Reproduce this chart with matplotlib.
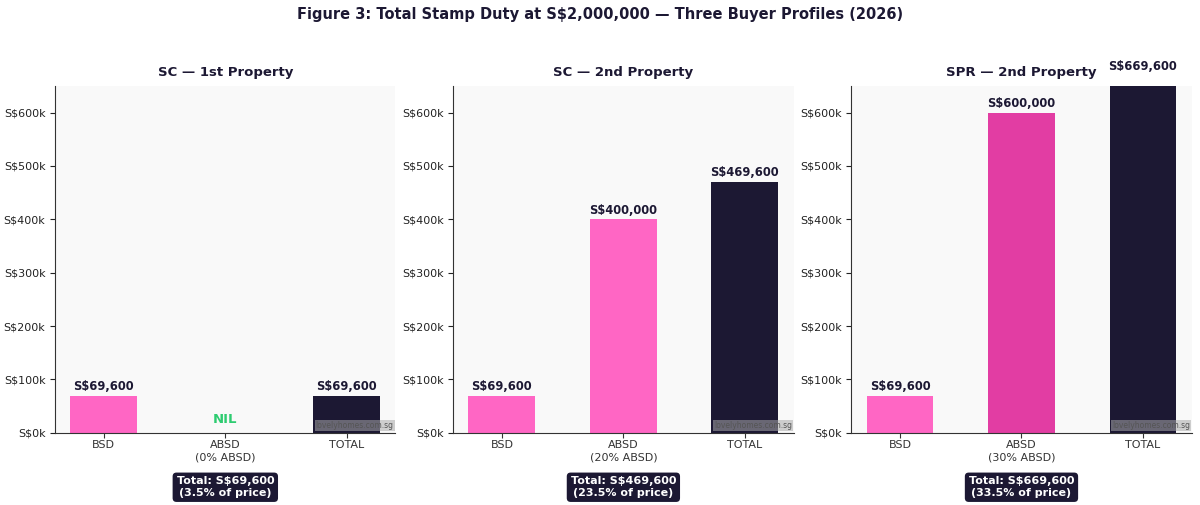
import matplotlib.pyplot as plt
from matplotlib.ticker import FuncFormatter

plt.rcParams['font.family'] = ['DejaVu Sans']

profiles = ['SC — 1st Property', 'SC — 2nd Property', 'SPR — 2nd Property']
absd_labels = ['ABSD\n(0% ABSD)', 'ABSD\n(20% ABSD)', 'ABSD\n(30% ABSD)']
bsd = [69600, 69600, 69600]
absd = [0, 400000, 600000]
total = [69600, 469600, 669600]
pct = ['3.5%', '23.5%', '33.5%']
absd_colors = ['#ff66c4', '#ff66c4', '#e23da3']

dark = '#1c1833'
pink = '#ff66c4'

fig, axes = plt.subplots(1, 3, figsize=(12, 5.05), dpi=100)
fig.subplots_adjust(left=0.046, right=0.993, top=0.830, bottom=0.143, wspace=0.17)
fig.suptitle('Figure 3: Total Stamp Duty at S$2,000,000 — Three Buyer Profiles (2026)',
             fontsize=10.5, fontweight='bold', color=dark, y=0.972, va='center')

fmt = FuncFormatter(lambda v, p: f'S${v/1000:.0f}k')

for i, ax in enumerate(axes):
    vals = [bsd[i], absd[i], total[i]]
    cols = [pink, absd_colors[i], dark]
    ax.set_facecolor('#f9f9f9')
    ax.bar([0, 1, 2], vals, width=0.55, color=cols)
    ax.set_xlim(-0.4, 2.4)
    ax.set_ylim(0, 650000)
    ax.yaxis.set_major_formatter(fmt)
    ax.set_xticks([0, 1, 2])
    ax.set_xticklabels(['BSD', absd_labels[i], 'TOTAL'], fontsize=8, color='#222222')
    ax.tick_params(axis='y', labelsize=8, colors='#222222')
    ax.tick_params(axis='x', pad=2, colors='#333333')
    for s in ['top', 'right']:
        ax.spines[s].set_visible(False)
    for s in ['left', 'bottom']:
        ax.spines[s].set_color('#333333')
    ax.set_title(profiles[i], fontsize=9.5, fontweight='bold', color=dark, pad=7)
    for j, v in enumerate(vals):
        if v > 0:
            ax.annotate(f'S${v:,.0f}', (j, v), xytext=(0, 2), textcoords='offset points',
                        ha='center', va='bottom', fontsize=8.3, fontweight='bold',
                        color=dark, annotation_clip=False)
        else:
            ax.text(j, 24000, 'NIL', ha='center', va='center', fontsize=9.5,
                    fontweight='bold', color='#2ecc71')
    ax.text(0.995, 0.008, 'lovelyhomes.com.sg', transform=ax.transAxes, ha='right',
            va='bottom', fontsize=5.5, color='#555555',
            bbox=dict(boxstyle='square,pad=0.15', facecolor='#aaaaaa', edgecolor='none', alpha=0.55))
    ax.text(0.5, -0.157, f'Total: S${total[i]:,.0f}\n({pct[i]} of price)', transform=ax.transAxes,
            ha='center', va='center', fontsize=8, fontweight='bold', color='white',
            bbox=dict(boxstyle='round,pad=0.35', facecolor=dark, edgecolor='none'))

fig.savefig('out.png', dpi=100)
